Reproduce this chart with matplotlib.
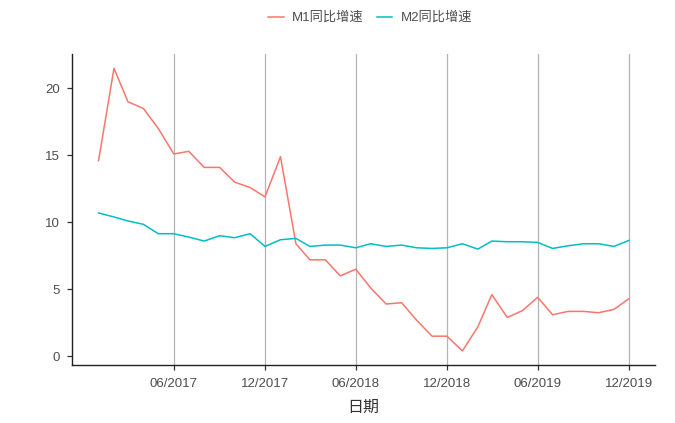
#!/usr/bin/env python

import matplotlib

matplotlib.use("Agg")
import matplotlib.dates as mdates
import matplotlib.pyplot as plt
import pandas as pd

plt.rcParams["font.family"] = ["Liberation Sans", "Noto Sans CJK SC", "DejaVu Sans"]

dates = pd.date_range("2017-01-01", periods=36, freq="MS")

m1 = [14.6, 21.5, 19.0, 18.5, 17.0, 15.1, 15.3, 14.1, 14.1, 13.0, 12.6, 11.9,
      14.9, 8.4, 7.2, 7.2, 6.0, 6.5, 5.1, 3.9, 4.0, 2.7, 1.5, 1.5,
      0.4, 2.2, 4.6, 2.9, 3.4, 4.4, 3.1, 3.35, 3.35, 3.25, 3.5, 4.3]
m2 = [10.7, 10.4, 10.1, 9.85, 9.15, 9.15, 8.9, 8.6, 9.0, 8.85, 9.15, 8.2,
      8.7, 8.8, 8.2, 8.3, 8.3, 8.1, 8.4, 8.2, 8.3, 8.1, 8.05, 8.1,
      8.4, 8.0, 8.6, 8.55, 8.55, 8.5, 8.05, 8.25, 8.4, 8.4, 8.2, 8.65]

series_names = ["M1同比增速", "M2同比增速"]
series_colors = ["#F8766D", "#00BFC4"]
tick_dates = pd.to_datetime(["2017-06-01", "2017-12-01", "2018-06-01",
                             "2018-12-01", "2019-06-01", "2019-12-01"])
y_ticks = [0, 5, 10, 15, 20]


def plot_chart():
    fig = plt.figure(figsize=(6.75, 4.23), dpi=100)
    ax = fig.add_axes([0.1067, 0.137, 0.8643, 0.735])

    for values, name, color in zip([m1, m2], series_names, series_colors):
        ax.plot(dates, values, color=color, linewidth=1.1, label=name)

    # ggplot-style 5% expansion
    span = dates[-1] - dates[0]
    ax.set_xlim(dates[0] - span * 0.05, dates[-1] + span * 0.05)
    lo, hi = min(m1 + m2), max(m1 + m2)
    pad = (hi - lo) * 0.05
    ax.set_ylim(lo - pad, hi + pad)

    ax.set_xticks(tick_dates)
    ax.xaxis.set_major_formatter(mdates.DateFormatter("%m/%Y"))
    ax.set_yticks(y_ticks)

    # Vertical grid lines only
    ax.grid(axis="x", color="#b5b5b5", linewidth=0.9)
    ax.set_axisbelow(True)

    for side in ["top", "right"]:
        ax.spines[side].set_visible(False)
    for side in ["left", "bottom"]:
        ax.spines[side].set_color("#222222")
        ax.spines[side].set_linewidth(1.0)

    ax.tick_params(axis="both", colors="#333333", labelcolor="#4d4d4d",
                   labelsize=9.5, length=3.5, width=0.9)
    ax.tick_params(axis="x", pad=6)
    ax.tick_params(axis="y", pad=5)

    ax.set_xlabel("日期", fontsize=11.5, color="#333333", labelpad=7)

    fig.legend(loc="center", bbox_to_anchor=(370 / 675, 1 - 18 / 423),
               ncol=2, frameon=False, fontsize=9.5, handlelength=1.2,
               columnspacing=1.0, handletextpad=0.6, labelcolor="#4d4d4d")

    fig.savefig("out.png", dpi=100)


if __name__ == "__main__":
    plot_chart()
